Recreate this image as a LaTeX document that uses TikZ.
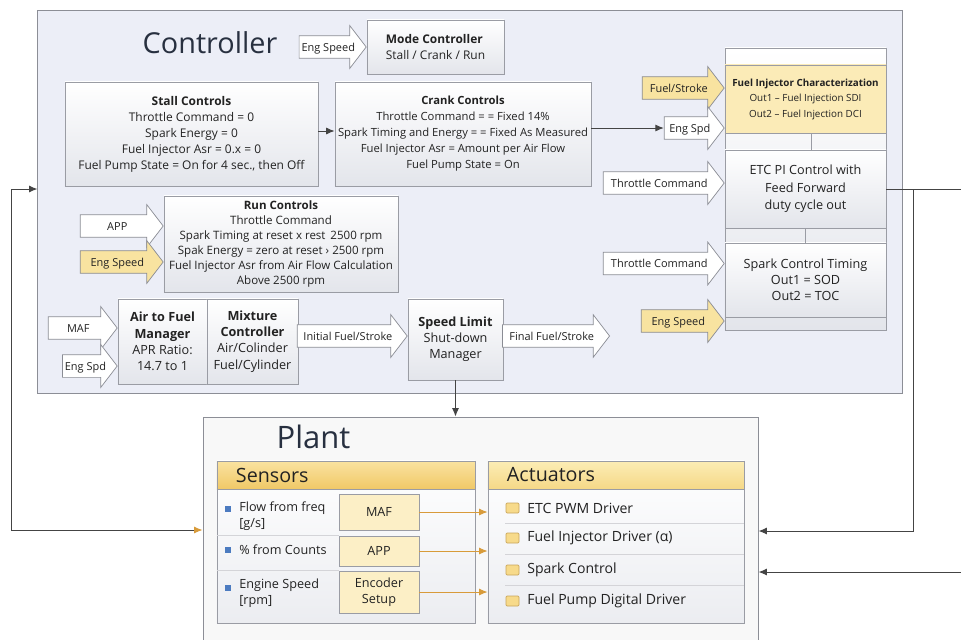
\documentclass[tikz,border=0pt]{standalone}
\usepackage{fontspec}
\setmainfont{Open Sans}
\usepackage{tkz-euclide}
\usetikzlibrary{shapes.arrows,arrows.meta}

\definecolor{ctrlfill}{HTML}{ECEEF7}
\definecolor{plantfill}{HTML}{F8F8F8}
\definecolor{panelline}{HTML}{8C8E96}
\definecolor{boxline}{HTML}{9A9CA4}
\definecolor{boxbot}{HTML}{E3E5EB}
\definecolor{arrowline}{HTML}{8A8C94}
\definecolor{yarrowfill}{HTML}{F8E3A0}
\definecolor{ficfill}{HTML}{FBEBB7}
\definecolor{wirecol}{HTML}{444444}
\definecolor{orangeA}{HTML}{D89B3A}
\definecolor{bulletblue}{HTML}{4C7BC0}
\definecolor{ink}{HTML}{222222}
\definecolor{titleink}{HTML}{283040}
\definecolor{itemfill}{HTML}{FCEFC6}
\definecolor{sqfill}{HTML}{F7DA8A}
\definecolor{sqline}{HTML}{C9A55A}
\definecolor{sepcol}{HTML}{D4D4D8}
\definecolor{senstop}{HTML}{FAE3A0}
\definecolor{sensbot}{HTML}{F0C867}
\definecolor{acttop}{HTML}{FCEDB5}
\definecolor{actbot}{HTML}{F5D887}

\tikzset{
  panel/.style={draw=panelline,line width=.6pt,inner sep=0pt},
  heading/.style={inner sep=0pt,text=titleink,font=\fontsize{20.5}{24}\selectfont},
  blk/.style={draw=boxline,line width=.5pt,top color=white,bottom color=boxbot,align=center,inner sep=1pt,text=ink,font=\fontsize{8.5}{11.4}\selectfont},
  barrow/.style={single arrow,draw=arrowline,line width=.5pt,fill=white,anchor=tip,single arrow head extend=.25cm,single arrow tip angle=105,inner xsep=1.5pt,inner ysep=2.6pt,text height=1.55ex,text depth=.4ex,text=ink,font=\fontsize{7.8}{9}\selectfont},
  yarrow/.style={barrow,fill=yarrowfill},
  wire/.style={draw=wirecol,line width=.7pt},
  conn/.style={wire,-{Latex[length=6pt,width=5pt]}},
  oconn/.style={draw=orangeA,line width=.7pt,-{Latex[length=6pt,width=5pt]}},
  hdr/.style={draw=boxline,line width=.5pt,minimum height=.7cm,inner xsep=.475cm,align=left,text=ink,font=\fontsize{14}{16}\selectfont},
  sensor/.style={draw=boxline,line width=.5pt,fill=itemfill,minimum width=2cm,align=center,inner sep=1pt,text=ink,font=\fontsize{9}{11.5}\selectfont},
  item/.style={anchor=west,align=left,inner sep=0pt,text=ink,font=\fontsize{9}{11.5}\selectfont},
  actitem/.style={item,font=\fontsize{10}{12}\selectfont},
  bullet/.style={fill=bulletblue,inner sep=0pt,minimum size=4.5pt},
  chip/.style={draw=sqline,fill=sqfill,rounded corners=.8pt,inner sep=0pt,minimum width=.325cm,minimum height=.25cm},
  rowline/.style={draw=sepcol,line width=.4pt}
}

\begin{document}
\begin{tikzpicture}[x=0.025cm,y=-0.025cm]
            \path[use as bounding box,fill=white] (0,0) rectangle (961,639);
            \tkzDefPoints{913/189/R1,961/189/R2,961/572/R3,11/530/L1}
            \node[panel,fill=ctrlfill,minimum width=21.6cm,minimum height=9.575cm] (ctrl) at (470,201.5) {};
            \node[heading,anchor=base] (ctrltitle) at (210,53) {Controller};
            \node[blk,align=left,minimum width=3.425cm,minimum height=1.35cm] (mode) at (435.5,47) {\textbf{Mode Controller}\\Stall / Crank / Run};
            \node[barrow,minimum height=1.675cm] (modein) at (mode.west) {Eng Speed};
            \node[blk,minimum width=6.325cm,minimum height=2.6cm] (stall) at (191.5,134) {\textbf{Stall Controls}\\Throttle Command = 0\\Spark Energy = 0\\Fuel Injector Asr = 0.x = 0\\Fuel Pump State = On for 4 sec., then Off};
            \node[blk,minimum width=6.4cm,minimum height=2.6cm,font=\fontsize{8}{11.4}\selectfont] (crank) at (463,134) {\textbf{Crank Controls}\\Throttle Command = = Fixed 14\%\\Spark Timing and Energy = = Fixed As Measured\\Fuel Injector Asr = Amount per Air Flow\\Fuel Pump State = On};
            \node[blk,minimum width=5.85cm,minimum height=2.4cm,font=\fontsize{8.2}{10.8}\selectfont] (run) at (281,244) {\textbf{Run Controls}\\Throttle Command\\Spark Timing at reset x rest\, 2500 rpm\\Spak Energy = zero at reset › 2500 rpm\\Fuel Injector Asr from Air Flow Calculation\\Above 2500 rpm};
            \node[barrow,minimum height=2.075cm] (appin) at (run.west |- 0,226) {APP};
            \node[yarrow,minimum height=2.075cm] (spdrun) at (run.west |- 0,262) {Eng Speed};
            \node[blk,minimum width=2.225cm,minimum height=2.125cm,font=\fontsize{9}{11.6}\selectfont] (afm) at (162.5,341.5) {\textbf{Air to Fuel}\\\textbf{Manager}\\APR Ratio:\\14.7 to 1};
            \node[blk,minimum width=2.275cm,minimum height=2.125cm,font=\fontsize{9}{11.6}\selectfont] (mix) at (252.5,341.5) {\textbf{Mixture}\\\textbf{Controller}\\Air/Colinder\\Fuel/Cylinder};
            \node[barrow,minimum height=1.725cm] (mafin) at (afm.west |- 0,328) {MAF};
            \node[barrow,minimum height=1.25cm] (spdafm) at (afm.west |- 0,366) {Eng Spd};
            \node[blk,minimum width=2.375cm,minimum height=2.025cm,font=\fontsize{9}{11.4}\selectfont] (spl) at (455.5,339.5) {\textbf{Speed Limit}\\Shut-down\\Manager};
            \node[barrow,minimum height=2.75cm] (initfs) at (spl.west |- 0,336) {Initial Fuel/Stroke};
            \node[barrow,minimum height=2.675cm] (finalfs) at (610,336) {Final Fuel/Stroke};
            \node[blk,minimum width=4.025cm,minimum height=7.05cm] (stack) at (805.5,189) {};
            \node[blk,top color=ficfill,bottom color=ficfill,minimum width=4.025cm,minimum height=1.7cm,font=\fontsize{7}{11}\selectfont] (fic) at (805.5,99) {\textbf{Fuel Injector Characterization}\\Out1 – Fuel Injection SDI\\Out2 – Fuel Injection DCI};
            \node[blk,minimum width=4.025cm,minimum height=1.95cm,font=\fontsize{9}{12.5}\selectfont] (etc) at (805.5,189) {ETC PI Control with\\Feed Forward\\duty cycle out};
            \node[blk,minimum width=4.025cm,minimum height=1.85cm,font=\fontsize{9}{11.4}\selectfont] (spk) at (805.5,280) {Spark Control Timing\\Out1 = SOD\\Out2 = TOC};
            \draw[boxline,line width=.5pt] ([xshift=.14cm]fic.south) -- ([xshift=.14cm]etc.north);
            \draw[boxline,line width=.5pt] (etc.south) -- (etc.south |- spk.north);
            \node[yarrow,minimum height=2.05cm] (fsin) at (stack.west |- 0,88) {Fuel/Stroke};
            \node[barrow,minimum height=1.5cm] (spdfic) at (stack.west |- 0,128) {Eng Spd};
            \node[barrow,minimum height=3.025cm] (thretc) at (stack.west |- 0,183) {Throttle Command};
            \node[barrow,minimum height=3.025cm] (thrspk) at (stack.west |- 0,263.5) {Throttle Command};
            \node[yarrow,minimum height=2.075cm] (spdspk) at (stack.west |- 0,321) {Eng Speed};
            \draw[conn] (stall.east |- 0,131) -- (crank.west |- 0,131);
            \draw[conn] (crank.east |- spdfic.tail) -- (spdfic.tail);
            \node[panel,fill=plantfill,minimum width=13.875cm,minimum height=5.825cm] (plant) at (480.5,533.5) {};
            \node[heading,font=\fontsize{22}{26}\selectfont,anchor=base] (planttitle) at (313.5,448) {Plant};
            \node[panel,draw=boxline,top color=white,bottom color=boxbot!70,minimum width=6.45cm,minimum height=4.05cm] (sens) at (346,542) {};
            \node[hdr,text width=5.5cm,top color=senstop,bottom color=sensbot] (senshead) at (346,475) {Sensors};
            \node[sensor,minimum height=.9cm] (maf) at (379,512) {MAF};
            \node[sensor,minimum height=.75cm] (app) at (379,551) {APP};
            \node[sensor,minimum height=1.05cm] (enc) at (379,592) {Encoder\\Setup};
            \draw[rowline] (sens.west |- app.north) -- (app.north west);
            \draw[rowline] (sens.west |- enc.north) -- (enc.north west);
            \node[bullet] (b1) at (228,509) {};
            \node[bullet] (b2) at (228,550) {};
            \node[bullet] (b3) at (228,588) {};
            \node[item] (flow) at (239,516) {Flow from freq\\{}[g/s]};
            \node[item] (counts) at (239,550) {\% from Counts};
            \node[item] (engspeed) at (239,593) {Engine Speed\\{}[rpm]};
            \node[panel,draw=boxline,top color=white,bottom color=boxbot!70,minimum width=6.4cm,minimum height=4.05cm] (act) at (616,542) {};
            \node[hdr,text width=5.45cm,top color=acttop,bottom color=actbot] (acthead) at (616,475) {Actuators};
            \draw[rowline] (505,523) -- (act.east |- 0,523);
            \draw[rowline] (505,554) -- (act.east |- 0,554);
            \draw[rowline] (505,585) -- (act.east |- 0,585);
            \node[chip] (c1) at (512.5,508) {};
            \node[chip] (c2) at (512.5,538) {};
            \node[chip] (c3) at (512.5,570) {};
            \node[chip] (c4) at (512.5,601) {};
            \node[actitem] (etcpwm) at (527,508) {ETC PWM Driver};
            \node[actitem] (fidrv) at (527,538) {Fuel Injector Driver (α)};
            \node[actitem] (spkctl) at (527,570) {Spark Control};
            \node[actitem] (pump) at (527,601) {Fuel Pump Digital Driver};
            \draw[oconn] (maf.east) -- (act.west |- maf.east);
            \draw[oconn] (app.east) -- (act.west |- app.east);
            \draw[oconn] (enc.east) -- (act.west |- enc.east);
            \draw[conn] (spl.south) -- (spl.south |- plant.north);
            \draw[wire] (etc.east) -- (R2);
            \draw[conn] (R1) |- (plant.east |- 0,531);
            \draw[conn] (R3) -- (plant.east |- R3);
            \draw[conn] (L1) |- (ctrl.west |- etc.east);
            \draw[wire,-{Latex[length=6pt,width=5pt,color=orangeA]}] (L1) -- (plant.west |- L1);
\end{tikzpicture}
\end{document}
